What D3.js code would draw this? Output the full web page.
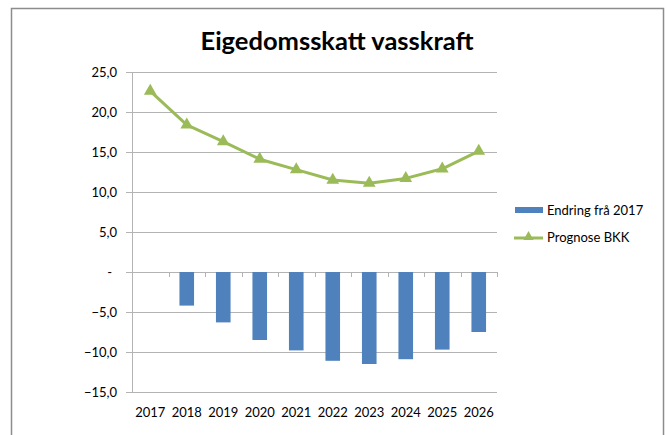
<!DOCTYPE html>
<html>
<head>
<meta charset="utf-8">
<script src="https://cdn.jsdelivr.net/npm/d3@7"></script>
<style>
	body { margin: 0; background: #fff; }
	svg { display: block; font-family: Lato, "Open Sans", sans-serif; }
</style>
</head>
<body>
<svg width="670" height="435"></svg>
<script>
var years = ["2017", "2018", "2019", "2020", "2021", "2022", "2023", "2024", "2025", "2026"];
var endring = [null, -4.2, -6.3, -8.5, -9.8, -11.1, -11.5, -10.9, -9.7, -7.5];
var prognose = [22.6, 18.4, 16.3, 14.1, 12.8, 11.5, 11.1, 11.7, 12.9, 15.1];
var yTicks = [25, 20, 15, 10, 5, 0, -5, -10, -15];
var seriesNames = ["Endring frå 2017", "Prognose BKK"];

var svg = d3.select("svg"),
	plotLeft = 132, plotRight = 497, plotTop = 72, plotBottom = 392;

var barColor = "#4f81bd", lineColor = "#9bbb59";

// frame
svg.append("rect")
	.attr("x", 11.5).attr("y", 8.5)
	.attr("width", 652).attr("height", 440)
	.attr("fill", "none")
	.attr("stroke", "#8c8c8c")
	.attr("stroke-width", 1.5);

svg.append("text")
	.attr("x", 337).attr("y", 50)
	.attr("text-anchor", "middle")
	.style("font-size", "25.5px")
	.style("font-weight", "bold")
	.style("fill", "#000")
	.text("Eigedomsskatt vasskraft");

var x = d3.scaleBand().domain(years).range([plotLeft, plotRight]);
var y = d3.scaleLinear().domain([-15, 25]).range([plotBottom, plotTop]);

var fmt = function(v) { return v == 0 ? "-" : d3.format(".1f")(v).replace(".", ","); };

// gridlines
svg.append("g")
	.selectAll("line")
	.data(yTicks)
	.enter().append("line")
		.attr("x1", plotLeft - 6).attr("x2", plotRight)
		.attr("y1", function(d) { return Math.round(y(d)) + 0.5; })
		.attr("y2", function(d) { return Math.round(y(d)) + 0.5; })
		.attr("stroke", "#b3b3b3")
		.attr("stroke-width", 1);

// y labels
svg.append("g")
	.selectAll("text")
	.data(yTicks)
	.enter().append("text")
		.attr("x", function(d) { return d == 0 ? 112 : 117; })
		.attr("y", function(d) { return y(d) + 5; })
		.attr("text-anchor", "end")
		.style("font-size", "13px")
		.style("fill", "#000")
		.text(fmt);

// y axis line
svg.append("line")
	.attr("x1", plotLeft + 0.5).attr("x2", plotLeft + 0.5)
	.attr("y1", plotTop).attr("y2", plotBottom)
	.attr("stroke", "#b3b3b3");

// category tick marks on zero line
var bounds = years.map(function(d) { return x(d); }).concat([plotRight]);
svg.append("g")
	.selectAll("line")
	.data(bounds)
	.enter().append("line")
		.attr("x1", function(d) { return Math.round(d) + 0.5; })
		.attr("x2", function(d) { return Math.round(d) + 0.5; })
		.attr("y1", y(0)).attr("y2", y(0) + 5)
		.attr("stroke", "#b3b3b3");

// bars
var bw = x.bandwidth() / 2.5;
svg.append("g")
	.selectAll("rect")
	.data(years.map(function(d, i) { return {year: d, v: endring[i]}; }).filter(function(d) { return d.v != null; }))
	.enter().append("rect")
		.attr("x", function(d) { return x(d.year) + x.bandwidth() / 2 - bw / 2; })
		.attr("y", y(0))
		.attr("width", bw)
		.attr("height", function(d) { return y(d.v) - y(0); })
		.attr("fill", barColor);

// line
var line = d3.line()
	.x(function(d, i) { return x(years[i]) + x.bandwidth() / 2; })
	.y(function(d) { return y(d); });

svg.append("path")
	.datum(prognose)
	.attr("d", line)
	.attr("fill", "none")
	.attr("stroke", lineColor)
	.attr("stroke-width", 3)
	.attr("stroke-linejoin", "round");

var tri = d3.symbol().type(d3.symbolTriangle).size(70);
svg.append("g")
	.selectAll("path")
	.data(prognose)
	.enter().append("path")
		.attr("d", tri)
		.attr("transform", function(d, i) { return "translate(" + (x(years[i]) + x.bandwidth() / 2) + "," + y(d) + ")"; })
		.attr("fill", lineColor);

// x labels
svg.append("g")
	.selectAll("text")
	.data(years)
	.enter().append("text")
		.attr("x", function(d) { return x(d) + x.bandwidth() / 2; })
		.attr("y", 417)
		.attr("text-anchor", "middle")
		.style("font-size", "13px")
		.style("fill", "#000")
		.text(function(d) { return d; });

// legend
var lg = svg.append("g");
lg.append("rect")
	.attr("x", 515).attr("y", 207)
	.attr("width", 28).attr("height", 6)
	.attr("fill", barColor);
lg.append("line")
	.attr("x1", 514).attr("x2", 543)
	.attr("y1", 238).attr("y2", 238)
	.attr("stroke", lineColor).attr("stroke-width", 3);
lg.append("path")
	.attr("d", d3.symbol().type(d3.symbolTriangle).size(45))
	.attr("transform", "translate(528.5,237)")
	.attr("fill", lineColor);
lg.selectAll("text")
	.data(seriesNames)
	.enter().append("text")
		.attr("x", 547)
		.attr("y", function(d, i) { return 215 + i * 27; })
		.style("font-size", "13px")
		.style("fill", "#000")
		.text(function(d) { return d; });
</script>
</body>
</html>
